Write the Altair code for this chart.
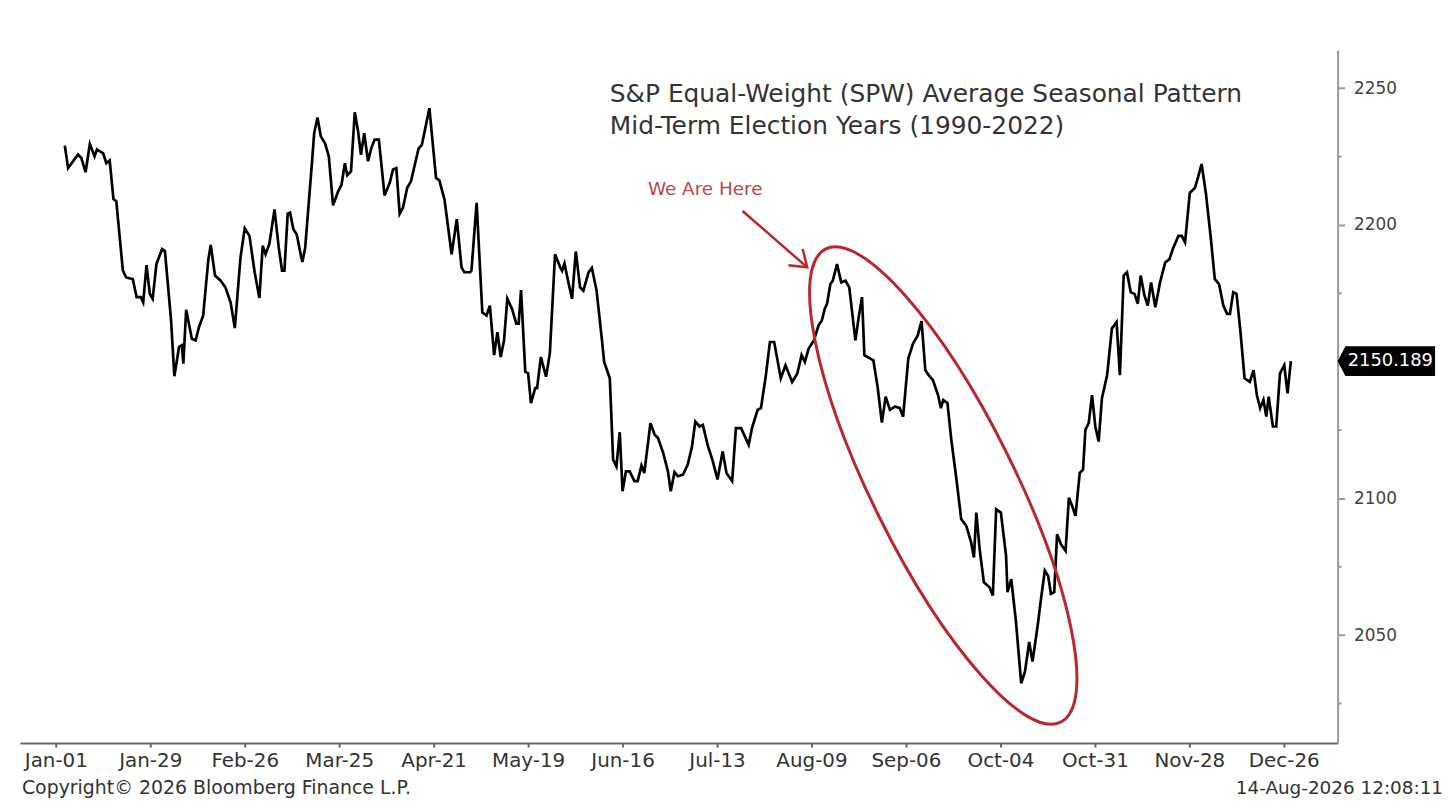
import altair as alt
import pandas as pd

# ---- data (x = weekday index from Jan-01, y = index level) ----
days = [1.9, 2.6, 4.7, 5.4, 6.3, 7.2, 8.2, 8.7, 10.0, 10.7, 11.4, 12.2, 12.8, 14.2, 14.9, 16.3, 17.1, 18.0, 18.5, 19.2,
        19.9, 20.5, 21.3, 22.5, 23.1, 24.4, 25.1, 26.1, 26.7, 27.0, 27.6, 28.8, 29.6, 30.3, 31.2, 32.3, 32.8, 33.7, 34.9, 35.9,
        37.0, 37.9, 39.1, 40.0, 41.0, 42.1, 43.1, 43.8, 44.4, 45.2, 46.3, 47.2, 47.9, 48.4, 49.1, 49.6, 50.3, 51.0, 51.9, 52.2,
        52.8, 54.2, 54.7, 55.4, 56.1, 57.0, 57.8, 58.7, 59.8, 60.5, 61.2, 61.7, 62.5, 63.3, 64.0, 64.6, 65.3, 66.1, 66.8, 67.5,
        68.4, 69.6, 70.7, 71.4, 72.1, 72.8, 73.5, 74.4, 75.2, 76.8, 77.5, 79.1, 80.5, 81.2, 82.3, 83.8, 84.9, 85.9, 86.5, 87.7,
        88.0, 89.1, 90.3, 91.2, 91.9, 92.8, 93.5, 94.2, 94.9, 95.6, 96.6, 97.5, 98.0, 98.5, 99.4, 100.0, 100.6, 101.5, 101.9, 102.7,
        103.8, 104.6, 105.7, 106.8, 107.2, 107.7, 108.6, 109.3, 110.1, 111.0, 111.7, 112.8, 113.5, 114.5, 115.6, 116.1, 117.3, 118.0, 118.7, 119.4,
        120.0, 120.7, 121.5, 122.5, 123.2, 124.0, 124.6, 125.9, 126.8, 127.5, 128.6, 129.6, 130.2, 131.0, 131.7, 132.8, 133.8, 134.7, 135.4, 136.3,
        137.0, 138.0, 139.1, 140.1, 141.2, 142.0, 143.2, 144.0, 145.1, 146.7, 147.4, 148.6, 149.3, 150.3, 151.2, 152.1, 153.5, 154.5, 155.9, 157.0,
        157.9, 158.6, 159.4, 160.5, 161.5, 162.2, 162.8, 163.3, 164.0, 164.5, 165.4, 166.3, 167.2, 168.0, 169.3, 170.0, 170.7, 171.2, 172.1, 173.1,
        174.0, 174.9, 175.7, 176.6, 177.7, 178.7, 179.4, 180.5, 181.5, 182.5, 183.3, 184.1, 184.8, 185.7, 186.8, 187.4, 187.9, 188.8, 189.6, 190.7,
        191.7, 192.8, 193.8, 194.4, 194.9, 195.6, 196.5, 197.7, 198.4, 199.1, 200.1, 201.2, 201.5, 202.3, 203.3, 204.4, 205.2, 206.1, 206.8, 207.9,
        208.6, 209.4, 210.1, 210.7, 211.4, 212.0, 212.8, 213.8, 214.5, 215.2, 215.9, 216.8, 217.5, 218.0, 218.7, 219.4, 220.1, 220.8, 221.5, 222.6,
        223.6, 224.6, 225.3, 226.1, 226.8, 227.6, 228.4, 229.1, 229.7, 230.5, 231.2, 231.9, 232.8, 233.8, 234.9, 235.8, 236.5, 237.7, 238.4, 239.1,
        240.1, 241.2, 241.9, 242.6, 243.5, 244.5, 245.4, 246.3, 247.2, 248.0, 248.6, 249.3, 250.0, 250.8, 251.7, 252.8, 253.6, 254.3, 255.0, 255.7,
        256.3, 256.8, 257.7, 258.4, 259.2, 260.1, 260.8, 261.5]

values = [2229.0, 2220.8, 2225.8, 2224.5, 2219.3, 2229.6, 2225.1, 2227.6, 2226.3, 2222.6, 2223.6, 2209.5, 2208.7, 2183.3, 2180.8, 2180.2, 2173.6, 2173.6, 2171.7, 2185.3,
          2174.8, 2173.0, 2185.7, 2191.2, 2190.5, 2165.1, 2144.7, 2155.4, 2156.0, 2149.3, 2169.0, 2158.4, 2157.8, 2162.6, 2166.9, 2187.5, 2192.7, 2181.5, 2179.6, 2177.2,
          2171.7, 2162.3, 2188.1, 2198.8, 2196.0, 2182.7, 2173.3, 2192.4, 2189.3, 2193.0, 2205.7, 2191.7, 2183.3, 2183.3, 2204.1, 2204.5, 2198.4, 2196.6, 2188.7, 2186.5,
          2191.7, 2222.1, 2233.6, 2239.3, 2232.4, 2229.9, 2225.1, 2207.2, 2212.4, 2214.8, 2222.6, 2218.2, 2219.6, 2241.2, 2234.2, 2225.7, 2233.6, 2223.3, 2228.1, 2231.2,
          2231.2, 2210.8, 2215.4, 2220.3, 2220.8, 2204.1, 2206.3, 2213.6, 2216.0, 2227.9, 2229.3, 2242.7, 2217.2, 2216.3, 2209.3, 2189.3, 2202.1, 2184.5, 2182.7, 2182.7,
          2183.3, 2208.1, 2168.1, 2166.9, 2170.5, 2152.4, 2160.8, 2151.7, 2157.8, 2173.0, 2169.3, 2163.9, 2163.9, 2176.2, 2146.3, 2145.7, 2134.8, 2140.3, 2140.3, 2151.7,
          2144.5, 2153.0, 2189.3, 2184.5, 2183.3, 2185.9, 2178.4, 2173.0, 2190.3, 2177.2, 2176.0, 2182.7, 2184.3, 2176.0, 2158.4, 2149.9, 2143.9, 2114.2, 2111.7, 2124.2,
          2102.6, 2109.9, 2109.9, 2106.3, 2106.3, 2112.0, 2109.3, 2127.5, 2123.3, 2122.1, 2116.6, 2109.9, 2102.6, 2109.6, 2108.1, 2108.7, 2112.4, 2119.0, 2128.1, 2126.3,
          2126.9, 2119.6, 2113.6, 2106.9, 2117.2, 2109.3, 2106.3, 2125.7, 2125.7, 2119.6, 2125.7, 2132.4, 2133.0, 2144.5, 2157.2, 2157.2, 2143.9, 2148.7, 2142.6, 2145.7,
          2152.4, 2149.9, 2154.8, 2157.8, 2163.3, 2165.1, 2169.3, 2171.2, 2178.4, 2179.6, 2185.7, 2179.0, 2179.6, 2177.2, 2157.8, 2166.3, 2173.6, 2152.4, 2151.5, 2150.5,
          2140.8, 2127.7, 2137.2, 2132.4, 2133.6, 2133.0, 2129.9, 2151.2, 2156.6, 2159.6, 2164.8, 2146.9, 2145.1, 2143.3, 2137.8, 2133.0, 2136.0, 2134.8, 2121.5, 2106.9,
          2092.4, 2089.9, 2083.9, 2078.4, 2094.8, 2081.5, 2069.3, 2067.5, 2064.5, 2096.0, 2094.8, 2079.0, 2065.7, 2070.5, 2054.8, 2032.4, 2036.6, 2047.5, 2040.3, 2053.6,
          2063.3, 2073.6, 2071.7, 2065.1, 2065.7, 2086.9, 2083.3, 2080.8, 2100.2, 2097.2, 2093.6, 2109.3, 2110.5, 2125.1, 2127.5, 2137.8, 2126.3, 2120.8, 2136.6, 2145.1,
          2162.1, 2164.5, 2145.1, 2181.5, 2182.7, 2175.4, 2174.8, 2171.2, 2181.5, 2174.2, 2170.5, 2179.0, 2169.9, 2179.0, 2186.3, 2187.5, 2191.2, 2196.0, 2196.0, 2193.6,
          2211.7, 2213.6, 2217.8, 2222.3, 2211.7, 2196.0, 2180.2, 2178.4, 2170.5, 2167.5, 2167.5, 2175.4, 2174.8, 2161.5, 2143.9, 2142.6, 2146.9, 2137.8, 2133.0, 2136.0,
          2129.9, 2137.2, 2126.3, 2126.3, 2145.7, 2148.7, 2138.4, 2150.189]

tick_days = [0, 20, 40, 60, 80, 100, 120, 140, 160, 180, 200, 220, 240, 260]
tick_labels = ["Jan-01", "Jan-29", "Feb-26", "Mar-25", "Apr-21", "May-19", "Jun-16",
               "Jul-13", "Aug-09", "Sep-06", "Oct-04", "Oct-31", "Nov-28", "Dec-26"]
y_major = [2050, 2100, 2200, 2250]
y_minor = [2025, 2075, 2125, 2175, 2225]
last_value = 2150.189

title_lines = ["S&P Equal-Weight (SPW) Average Seasonal Pattern", "Mid-Term Election Years (1990-2022)"]
title_days = [117.3, 117.3]
title_vals = [2248.0, 2236.0]

note_text = ["We Are Here"]
note_day = [137.5]
note_val = [2213.1]

arrow_start = [145.4, 2205.1]
arrow_end = [159.1, 2184.5]

ellipse_center = [187.9, 2104.7]

footer_left = "Copyright\u00a9 2026 Bloomberg Finance L.P."
footer_right = "14-Aug-2026 12:08:11"

# ---- layout ----
W, H = 1325, 697
FONT = "DejaVu Sans"
RED = "#b8282e"

x_scale = alt.Scale(domain=[-7.6, 271.4], nice=False, zero=False)
y_scale = alt.Scale(domain=[2010.5, 2264.0], nice=False, zero=False)

label_js = "[" + ",".join("'" + s + "'" for s in tick_labels) + "]"

x_axis = alt.Axis(values=tick_days, labelExpr=label_js + "[round(datum.value/20)]",
                  title=None, grid=False, domainColor="#666", domainWidth=2,
                  tickColor="#666", tickSize=4, tickWidth=2,
                  labelFontSize=20, labelColor="#333", labelFont=FONT,
                  labelPadding=4, labelFlush=False)
y_axis = alt.Axis(orient="right", values=y_major, title=None, grid=False,
                  domainColor="#999", domainWidth=2, tickColor="#999",
                  tickSize=7, tickWidth=2, labelFontSize=17, labelColor="#444",
                  labelFont=FONT, labelPadding=9, format="d")

X = alt.X("day:Q", scale=x_scale, axis=x_axis)
Y = alt.Y("value:Q", scale=y_scale, axis=y_axis)

df = pd.DataFrame({"day": days, "value": values, "idx": list(range(len(days)))})

line = alt.Chart(df).mark_line(color="black", strokeWidth=2.7).encode(
    x=X, y=Y, order=alt.Order("idx:Q"))

minor = alt.Chart(pd.DataFrame({"value": y_minor})).mark_rule(color="#999", strokeWidth=2).encode(
    y=Y, x=alt.value(W), x2=alt.value(W + 4))

tag_path = "M-1,0L-0.84,-0.306L1,-0.306L1,0.306L-0.84,0.306Z"
tag_df = pd.DataFrame({"value": [last_value], "label": [f"{last_value:.3f}"]})
tag = alt.Chart(tag_df).mark_point(shape=tag_path, size=9604, filled=True, color="black",
                                   opacity=1, strokeWidth=0).encode(
    y=Y, x=alt.value(W + 49))
tag_text = alt.Chart(tag_df).mark_text(color="white", fontSize=18, font=FONT,
                                       align="center", baseline="middle").encode(
    y=Y, x=alt.value(W + 53), text="label:N")

title_df = pd.DataFrame({"day": title_days, "value": title_vals, "t": title_lines})
titles = alt.Chart(title_df).mark_text(align="left", baseline="middle", fontSize=25,
                                       font=FONT, color="#333").encode(x=X, y=Y, text="t:N")

note_df = pd.DataFrame({"day": note_day, "value": note_val, "t": note_text})
note = alt.Chart(note_df).mark_text(align="center", baseline="middle", fontSize=18.5,
                                    font=FONT, color="#b9474c").encode(x=X, y=Y, text="t:N")

arrow_df = pd.DataFrame({"day": [arrow_start[0]], "value": [arrow_start[1]],
                         "day2": [arrow_end[0]], "value2": [arrow_end[1]]})
shaft = alt.Chart(arrow_df).mark_rule(color=RED, strokeWidth=2.5).encode(
    x=X, y=Y, x2="day2:Q", y2="value2:Q")
head_df = pd.DataFrame({"day": [arrow_end[0]], "value": [arrow_end[1]]})
head = alt.Chart(head_df).mark_point(shape="M-1,-0.7L0,0L-1,0.7", size=970, angle=41.1,
                                     filled=False, color=RED, strokeWidth=2.5, opacity=1).encode(x=X, y=Y)

ell_path = ("M-1,0C-1,-0.149,-0.552,-0.27,0,-0.27C0.552,-0.27,1,-0.149,1,0"
            "C1,0.149,0.552,0.27,0,0.27C-0.552,0.27,-1,0.149,-1,0Z")
ell_df = pd.DataFrame({"day": [ellipse_center[0]], "value": [ellipse_center[1]]})
ellipse = alt.Chart(ell_df).mark_point(shape=ell_path, size=282173, angle=63.6, filled=False,
                                       color=RED, strokeWidth=3, opacity=1).encode(x=X, y=Y)

foot_l = alt.Chart(pd.DataFrame({"t": [footer_left]})).mark_text(
    align="left", baseline="middle", fontSize=19, font=FONT, color="#333").encode(
    x=alt.value(2), y=alt.value(H + 45), text="t:N")
foot_r = alt.Chart(pd.DataFrame({"t": [footer_right]})).mark_text(
    align="right", baseline="middle", fontSize=18.5, font=FONT, color="#333").encode(
    x=alt.value(W + 106), y=alt.value(H + 45), text="t:N")

chart = alt.layer(line, minor, ellipse, shaft, head, note, titles, tag, tag_text, foot_l, foot_r).properties(
    width=W, height=H,
    autosize=alt.AutoSizeParams(type="none"),
    padding={"left": 12, "top": 40, "right": 111, "bottom": 56},
    background="white",
).configure_view(stroke=None)

chart.save("out.html", embed_options={"renderer": "svg", "actions": False})
